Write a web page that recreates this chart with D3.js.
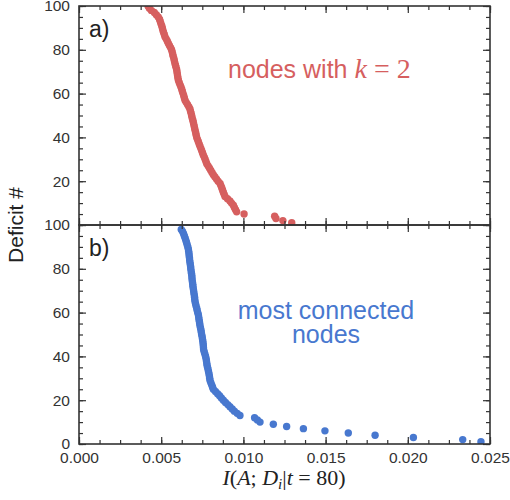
<!DOCTYPE html>
<html>
<head>
<meta charset="utf-8">
<script src="https://cdn.jsdelivr.net/npm/d3@7"></script>
<style>
  body { margin: 0; background: #fff; }
  svg { display: block; }
</style>
</head>
<body>
<svg id="chart" width="510" height="500"></svg>
<script>
// deficit rank (y) and mutual information I(A;D_i|t=80) (x)
// panel a) nodes with k=2, ranks 100 .. 1
var redX = [
  0.00420, 0.00428, 0.00440, 0.00458, 0.00470, 0.00482, 0.00490, 0.00494, 0.00498, 0.00503,
  0.00507, 0.00510, 0.00514, 0.00519, 0.00523, 0.00530, 0.00537, 0.00543, 0.00550, 0.00557,
  0.00563, 0.00567, 0.00570, 0.00573, 0.00577, 0.00580, 0.00583, 0.00587, 0.00590, 0.00594,
  0.00596, 0.00598, 0.00600, 0.00602, 0.00605, 0.00610, 0.00615, 0.00620, 0.00625, 0.00629,
  0.00633, 0.00637, 0.00641, 0.00645, 0.00652, 0.00660, 0.00668, 0.00675, 0.00678, 0.00682,
  0.00685, 0.00688, 0.00692, 0.00695, 0.00698, 0.00701, 0.00704, 0.00707, 0.00710, 0.00713,
  0.00716, 0.00721, 0.00726, 0.00731, 0.00736, 0.00741, 0.00746, 0.00751, 0.00756, 0.00762,
  0.00767, 0.00772, 0.00777, 0.00785, 0.00793, 0.00801, 0.00809, 0.00817, 0.00826, 0.00836,
  0.00846, 0.00858, 0.00863, 0.00868, 0.00873, 0.00878, 0.00883, 0.00888, 0.00903, 0.00918,
  0.00928, 0.00939, 0.00945, 0.00952, 0.00959, 0.01004, 0.01190, 0.01198, 0.01240, 0.01294
];
var redRanks = d3.range(100, 0, -1);

// panel b) most connected nodes, ranks 98 .. 1
var blueX = [
  0.00622, 0.00630, 0.00636, 0.00641, 0.00646, 0.00650, 0.00654, 0.00658, 0.00662, 0.00665,
  0.00667, 0.00669, 0.00670, 0.00672, 0.00673, 0.00675, 0.00677, 0.00679, 0.00680, 0.00682,
  0.00684, 0.00686, 0.00687, 0.00688, 0.00690, 0.00692, 0.00693, 0.00695, 0.00697, 0.00699,
  0.00701, 0.00703, 0.00704, 0.00706, 0.00709, 0.00712, 0.00716, 0.00719, 0.00722, 0.00726,
  0.00728, 0.00730, 0.00732, 0.00734, 0.00736, 0.00739, 0.00742, 0.00744, 0.00746, 0.00749,
  0.00751, 0.00753, 0.00755, 0.00756, 0.00757, 0.00758, 0.00762, 0.00766, 0.00770, 0.00773,
  0.00775, 0.00777, 0.00779, 0.00782, 0.00785, 0.00788, 0.00791, 0.00793, 0.00795, 0.00797,
  0.00802, 0.00807, 0.00812, 0.00817, 0.00830, 0.00843, 0.00855, 0.00866, 0.00878, 0.00891,
  0.00905, 0.00918, 0.00932, 0.00945, 0.00962, 0.00979, 0.01068, 0.01085, 0.01101, 0.01182,
  0.01263, 0.01365, 0.01496, 0.01638, 0.01801, 0.02034, 0.02334, 0.02445
];
var blueRanks = d3.range(98, 0, -1);

var xTicks = [0, 0.005, 0.010, 0.015, 0.020, 0.025];
var yTicks = [0, 20, 40, 60, 80, 100];

var RED = "#d65f5f";
var BLUE = "#4878cf";
var AXIS = "#333333";

var sans = "'Liberation Sans', Arial, sans-serif";
var serif = "'Liberation Serif', 'Times New Roman', serif";

var svg = d3.select("#chart");
var LEFT = 79, RIGHT = 490;
var x = d3.scaleLinear().domain([0, 0.025]).range([LEFT, RIGHT]);

var panels = [
  { top: 6, bottom: 225, xs: redX, ys: redRanks, color: RED, tag: "a)", hideZero: true },
  { top: 225, bottom: 444, xs: blueX, ys: blueRanks, color: BLUE, tag: "b)", hideZero: false }
];

panels.forEach(function (p, i) {
  var y = d3.scaleLinear().domain([0, 100]).range([p.bottom, p.top]);
  var g = svg.append("g");

  g.append("clipPath").attr("id", "clip" + i)
    .append("rect")
    .attr("x", LEFT).attr("y", p.top)
    .attr("width", RIGHT - LEFT).attr("height", p.bottom - p.top);

  // points
  var pts = p.xs.map(function (v, k) { return { x: v, y: p.ys[k] }; });
  g.append("g").attr("clip-path", "url(#clip" + i + ")")
    .selectAll("circle")
    .data(pts)
    .enter()
    .append("circle")
    .attr("cx", function (d) { return x(d.x); })
    .attr("cy", function (d) { return y(d.y); })
    .attr("r", 3.7)
    .attr("fill", p.color);

  var xMinor = d3.range(0, 0.0251, 0.00125);
  var yMinor = d3.range(0, 101, 5);

  function styleAxis(sel) {
    sel.select(".domain").remove();
    sel.selectAll("line").attr("stroke", AXIS).attr("stroke-width", 1.2);
    sel.selectAll("text")
      .attr("fill", AXIS)
      .style("font-family", sans)
      .style("font-size", "15.5px");
  }

  // minor ticks on all four sides
  g.append("g").attr("transform", "translate(0," + p.bottom + ")")
    .call(d3.axisBottom(x).tickValues(xMinor).tickSize(-4).tickFormat("")).call(styleAxis);
  g.append("g").attr("transform", "translate(0," + p.top + ")")
    .call(d3.axisTop(x).tickValues(xMinor).tickSize(-4).tickFormat("")).call(styleAxis);
  g.append("g").attr("transform", "translate(" + LEFT + ",0)")
    .call(d3.axisLeft(y).tickValues(yMinor).tickSize(-4).tickFormat("")).call(styleAxis);
  g.append("g").attr("transform", "translate(" + RIGHT + ",0)")
    .call(d3.axisRight(y).tickValues(yMinor).tickSize(-4).tickFormat("")).call(styleAxis);

  // major ticks
  var bottomAxis = d3.axisBottom(x).tickValues(xTicks).tickSize(-7).tickPadding(8);
  if (i === 0) bottomAxis.tickFormat("");
  else bottomAxis.tickFormat(d3.format(".3f"));
  g.append("g").attr("transform", "translate(0," + p.bottom + ")")
    .call(bottomAxis).call(styleAxis);
  g.append("g").attr("transform", "translate(0," + p.top + ")")
    .call(d3.axisTop(x).tickValues(xTicks).tickSize(-7).tickFormat("")).call(styleAxis);
  g.append("g").attr("transform", "translate(" + LEFT + ",0)")
    .call(d3.axisLeft(y).tickValues(yTicks).tickSize(-7).tickPadding(9)
      .tickFormat(function (d) { return (p.hideZero && d === 0) ? "" : d; }))
    .call(styleAxis);
  g.append("g").attr("transform", "translate(" + RIGHT + ",0)")
    .call(d3.axisRight(y).tickValues(yTicks).tickSize(-7).tickFormat("")).call(styleAxis);

  // frame
  g.append("rect")
    .attr("x", LEFT).attr("y", p.top)
    .attr("width", RIGHT - LEFT).attr("height", p.bottom - p.top)
    .attr("fill", "none").attr("stroke", AXIS).attr("stroke-width", 1.6);

  g.append("text")
    .attr("x", 89).attr("y", p.top + 31)
    .attr("fill", "#222")
    .style("font-family", sans)
    .style("font-size", "23px")
    .text(p.tag);
});

// annotations
var ann1 = svg.append("text")
  .attr("x", 228).attr("y", 78)
  .attr("fill", RED)
  .style("font-family", sans)
  .style("font-size", "25px");
ann1.append("tspan").text("nodes with ");
ann1.append("tspan").style("font-family", serif).style("font-style", "italic").style("font-size", "28px").text("k");
ann1.append("tspan").style("font-family", serif).style("font-size", "28px").text(" = 2");

svg.append("text")
  .attr("x", 326).attr("y", 319)
  .attr("text-anchor", "middle")
  .attr("fill", BLUE)
  .style("font-family", sans)
  .style("font-size", "25px")
  .text("most connected");
svg.append("text")
  .attr("x", 326).attr("y", 343)
  .attr("text-anchor", "middle")
  .attr("fill", BLUE)
  .style("font-family", sans)
  .style("font-size", "25px")
  .text("nodes");

// axis labels
svg.append("text")
  .attr("transform", "translate(23,225) rotate(-90)")
  .attr("text-anchor", "middle")
  .attr("fill", "#222")
  .style("font-family", sans)
  .style("font-size", "21px")
  .text("Deficit #");

var xl = svg.append("text")
  .attr("x", 284).attr("y", 485)
  .attr("text-anchor", "middle")
  .attr("fill", "#222")
  .style("font-family", serif)
  .style("font-size", "22px");
xl.append("tspan").style("font-style", "italic").text("I");
xl.append("tspan").text("(");
xl.append("tspan").style("font-style", "italic").text("A");
xl.append("tspan").text("; ");
xl.append("tspan").style("font-style", "italic").text("D");
xl.append("tspan").style("font-style", "italic").style("font-size", "15px").attr("dy", 4).text("i");
xl.append("tspan").attr("dy", -4).text("|");
xl.append("tspan").style("font-style", "italic").text("t");
xl.append("tspan").text(" = 80)");
</script>
</body>
</html>
